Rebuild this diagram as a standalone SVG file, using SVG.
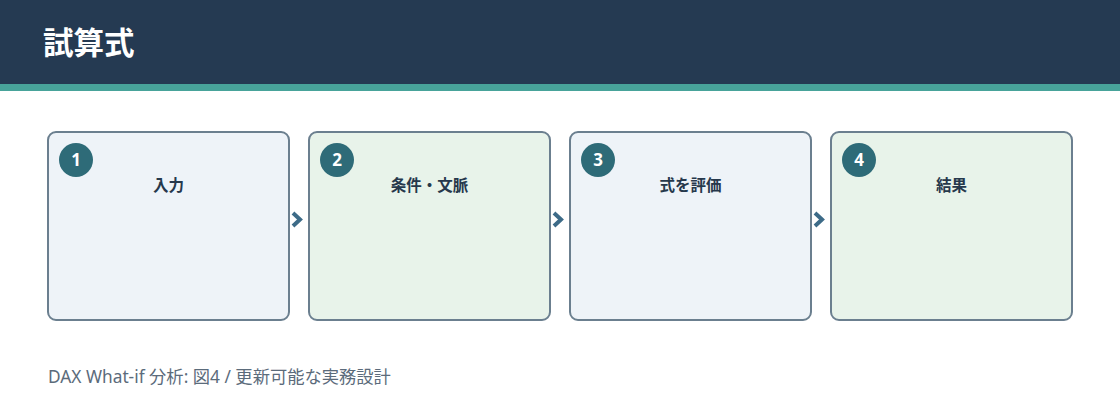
<svg xmlns="http://www.w3.org/2000/svg" width="1120" height="420" viewBox="0 0 1120 420">
<defs>
<style>
.box{stroke:#6b7f8f;stroke-width:2}
.b1{fill:#eef3f8}
.b2{fill:#e8f3ea}
.badge{fill:#2e6b78}
.num{font-family:"Noto Sans","Noto Sans CJK JP",sans-serif;font-size:17px;font-weight:700;fill:#ffffff;text-anchor:middle}
.lbl{font-family:"Noto Sans CJK JP","Noto Sans",sans-serif;font-size:15.5px;font-weight:700;fill:#26384c;text-anchor:middle}
.conn{fill:none;stroke:#3d6b88;stroke-width:4;stroke-linecap:butt;stroke-linejoin:miter}
</style>
</defs>
<rect x="0" y="0" width="1120" height="84" fill="#253a52"/>
<rect x="0" y="84" width="1120" height="7" fill="#48a39a"/>
<text x="43" y="54" font-family="Noto Sans CJK JP,sans-serif" font-size="30.5" font-weight="700" fill="#ffffff">試算式</text>
<g id="node1">
<rect class="box b1" x="48" y="132" width="241" height="188" rx="8"/>
<circle class="badge" cx="76" cy="160" r="17"/>
<text class="num" x="76" y="166">1</text>
<text class="lbl" x="168.5" y="191">入力</text>
</g>
<g id="node2">
<rect class="box b2" x="309" y="132" width="241" height="188" rx="8"/>
<circle class="badge" cx="337" cy="160" r="17"/>
<text class="num" x="337" y="166">2</text>
<text class="lbl" x="429.5" y="191">条件・文脈</text>
</g>
<g id="node3">
<rect class="box b1" x="570" y="132" width="241" height="188" rx="8"/>
<circle class="badge" cx="598" cy="160" r="17"/>
<text class="num" x="598" y="166">3</text>
<text class="lbl" x="690.5" y="191">式を評価</text>
</g>
<g id="node4">
<rect class="box b2" x="831" y="132" width="241" height="188" rx="8"/>
<circle class="badge" cx="859" cy="160" r="17"/>
<text class="num" x="859" y="166">4</text>
<text class="lbl" x="951.5" y="191">結果</text>
</g>
<g id="connectors">
<path class="conn" d="M293 213 L300 219.5 L293 226"/>
<path class="conn" d="M554 213 L561 219.5 L554 226"/>
<path class="conn" d="M815 213 L822 219.5 L815 226"/>
</g>
<text x="48" y="383" font-family="Noto Sans,Noto Sans CJK JP,sans-serif" font-size="17.3" fill="#5b6b7b">DAX What-if 分析: 図4 / 更新可能な実務設計</text>
</svg>
